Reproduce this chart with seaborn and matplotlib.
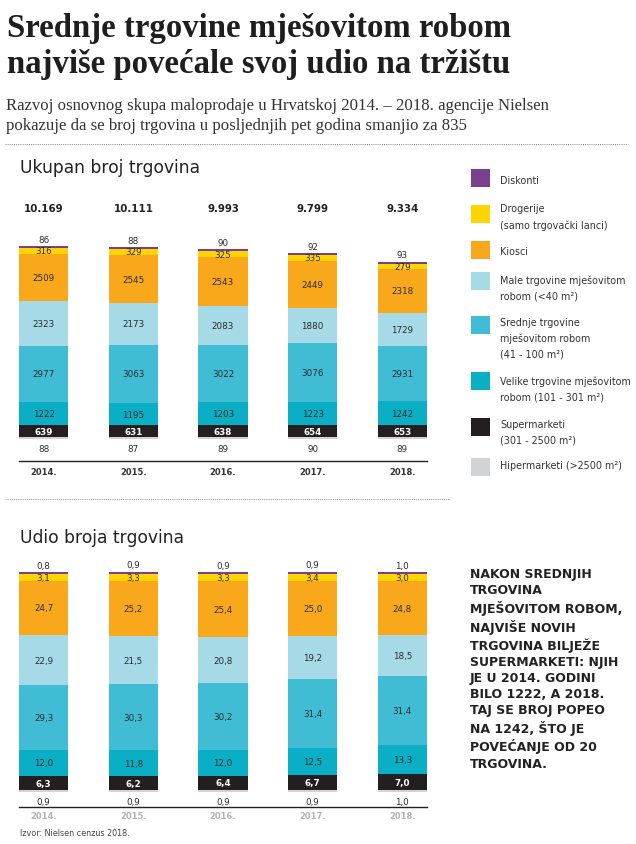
import matplotlib
matplotlib.use("Agg")
import matplotlib.pyplot as plt
from matplotlib.lines import Line2D
from matplotlib.patches import Rectangle
import matplotlib.transforms as mtransforms
import seaborn as sns
import pandas as pd

# --- data -------------------------------------------------------------
years = ['2014.', '2015.', '2016.', '2017.', '2018.']
totals = ['10.169', '10.111', '9.993', '9.799', '9.334']

# counts, from bottom of the stack to top
hiper = [88, 87, 89, 90, 89]
supermarketi = [639, 631, 638, 654, 653]
velike = [1222, 1195, 1203, 1223, 1242]
srednje = [2977, 3063, 3022, 3076, 2931]
male = [2323, 2173, 2083, 1880, 1729]
kiosci = [2509, 2545, 2543, 2449, 2318]
drogerije = [316, 329, 325, 335, 279]
diskonti = [86, 88, 90, 92, 93]

# shares in %
hiper_pct = [0.9, 0.9, 0.9, 0.9, 1.0]
supermarketi_pct = [6.3, 6.2, 6.4, 6.7, 7.0]
velike_pct = [12.0, 11.8, 12.0, 12.5, 13.3]
srednje_pct = [29.3, 30.3, 30.2, 31.4, 31.4]
male_pct = [22.9, 21.5, 20.8, 19.2, 18.5]
kiosci_pct = [24.7, 25.2, 25.4, 25.0, 24.8]
drogerije_pct = [3.1, 3.3, 3.3, 3.4, 3.0]
diskonti_pct = [0.8, 0.9, 0.9, 0.9, 1.0]

categories = ['Hipermarketi', 'Supermarketi', 'Velike', 'Srednje', 'Male',
              'Kiosci', 'Drogerije', 'Diskonti']
colors = ['#d1d3d4', '#231f20', '#0aafc6', '#40bdd4', '#a6dae7',
          '#f9a81c', '#ffd400', '#7a3f8f']

legend_labels = [
    ['Diskonti'],
    ['Drogerije', '(samo trgovački lanci)'],
    ['Kiosci'],
    ['Male trgovine mješovitom', 'robom (<40 m²)'],
    ['Srednje trgovine', 'mješovitom robom', '(41 - 100 m²)'],
    ['Velike trgovine mješovitom', 'robom (101 - 301 m²)'],
    ['Supermarketi', '(301 - 2500 m²)'],
    ['Hipermarketi (>2500 m²)'],
]

side_note = ("NAKON SREDNJIH\nTRGOVINA\nMJEŠOVITOM ROBOM,\nNAJVIŠE NOVIH\n"
             "TRGOVINA BILJEŽE\nSUPERMARKETI: NJIH\nJE U 2014. GODINI\n"
             "BILO 1222, A 2018.\nTAJ SE BROJ POPEO\nNA 1242, ŠTO JE\n"
             "POVEĆANJE OD 20\nTRGOVINA.")

sns.set_style("white")
plt.rcParams['font.family'] = ['DejaVu Sans']

W, H = 636, 845
fig = plt.figure(figsize=(W / 100, H / 100), dpi=100)
TXT = '#2b2b2b'


def px_rect(left, top, right, bottom):
    return [left / W, 1 - bottom / H, (right - left) / W, (bottom - top) / H]


def stacked(ax, series, fmt, white_idx):
    cum = pd.DataFrame(series, index=categories).T.cumsum(axis=1)
    cum['year'] = years
    # draw tallest cumulative first, smaller ones on top
    for k in range(len(categories) - 1, -1, -1):
        sns.barplot(data=cum, x='year', y=categories[k], color=colors[k],
                    saturation=1, width=0.55, linewidth=0, ax=ax)
    for i in range(len(years)):
        base = 0
        for k, cat in enumerate(categories):
            v = series[k][i]
            mid = base + v / 2
            base += v
            if k == 0:
                ax.annotate(fmt(v), (i, 0), xytext=(0, -10), textcoords='offset pixels',
                            ha='center', va='center', fontsize=6.3, color=TXT)
            elif k == len(categories) - 1:
                ax.annotate(fmt(v), (i, base), xytext=(0, 7), textcoords='offset pixels',
                            ha='center', va='center', fontsize=6.3, color=TXT)
            elif k == white_idx:
                ax.text(i, mid, fmt(v), ha='center', va='center', fontsize=6.3,
                        color='white', fontweight='bold')
            else:
                ax.text(i, mid, fmt(v), ha='center', va='center', fontsize=6.3,
                        color=TXT)
    ax.set_xlim(-0.275, len(years) - 0.725)
    ax.set_xlabel('')
    ax.set_ylabel('')
    ax.set_yticks([])
    for s in ['top', 'right', 'left']:
        ax.spines[s].set_visible(False)
    ax.spines['bottom'].set_color('#222222')
    ax.spines['bottom'].set_linewidth(1.0)
    ax.tick_params(axis='x', length=0)
    ax.patch.set_alpha(0)


count_series = [hiper, supermarketi, velike, srednje, male, kiosci, drogerije, diskonti]
pct_series = [hiper_pct, supermarketi_pct, velike_pct, srednje_pct, male_pct,
              kiosci_pct, drogerije_pct, diskonti_pct]

# --- top chart ----------------------------------------------------------
ax1 = fig.add_axes(px_rect(19, 200, 427, 440))
stacked(ax1, count_series, lambda v: f"{v}", 1)
ax1.set_ylim(0, 240 * 52.7)
ax1.spines['bottom'].set_position(('outward', 22 * 0.72))
ax1.set_xticks(range(len(years)))
ax1.set_xticklabels(years, fontsize=6, fontweight='bold', color='#333333')
ax1.tick_params(axis='x', pad=4)
tr1 = mtransforms.blended_transform_factory(ax1.transData, ax1.transAxes)
for i, t in enumerate(totals):
    ax1.text(i, (440 - 209) / 240, t, transform=tr1, ha='center', va='center',
             fontsize=7.4, fontweight='bold', color='#222222')

# --- bottom chart -------------------------------------------------------
ax2 = fig.add_axes(px_rect(19, 560, 427, 793))
stacked(ax2, pct_series, lambda v: f"{v:.1f}".replace('.', ','), 1)
ax2.set_ylim(0, 233 / 2.2)
ax2.spines['bottom'].set_position(('outward', 15 * 0.72))
ax2.set_xticks(range(len(years)))
ax2.set_xticklabels(years, fontsize=6, fontweight='bold', color='#b3b3b3')
ax2.tick_params(axis='x', pad=3)

# --- titles and texts ---------------------------------------------------
fig.text(7 / W, 1 - 29 / H, 'Srednje trgovine mješovitom robom', fontsize=23.6,
         fontweight='bold', family='Liberation Serif', color='#1e1e1e', va='center')
fig.text(7 / W, 1 - 64 / H, 'najviše povećale svoj udio na tržištu', fontsize=23.6,
         fontweight='bold', family='Liberation Serif', color='#1e1e1e', va='center')
fig.text(6 / W, 1 - 106 / H,
         'Razvoj osnovnog skupa maloprodaje u Hrvatskoj 2014. – 2018. agencije Nielsen',
         fontsize=12.1, family='Liberation Serif', color='#333333', va='center')
fig.text(6 / W, 1 - 126 / H,
         'pokazuje da se broj trgovina u posljednjih pet godina smanjio za 835',
         fontsize=12.1, family='Liberation Serif', color='#333333', va='center')

fig.text(20 / W, 1 - 168 / H, 'Ukupan broj trgovina', fontsize=12.3, color='#222222', va='center')
fig.text(20 / W, 1 - 538 / H, 'Udio broja trgovina', fontsize=12.3, color='#222222', va='center')
fig.text(20 / W, 1 - 834 / H, 'Izvor: Nielsen cenzus 2018.', fontsize=5.8, color='#444444', va='center')

fig.text(470 / W, 1 - 568 / H, side_note, fontsize=9, fontweight='bold', color='#222222',
         va='top', linespacing=1.31)

# dotted separators
for y, x0, x1 in [(145, 5, 628), (500, 5, 450)]:
    fig.add_artist(Line2D([x0 / W, x1 / W], [1 - y / H, 1 - y / H], transform=fig.transFigure,
                          color='#888888', lw=0.7, ls=(0, (1, 1.2))))

# --- legend -------------------------------------------------------------
leg_sq = [179, 215, 250.5, 282, 326, 382, 428, 468]
leg_txt = [181, 209.5, 252, 281, 323, 382, 425, 466]
leg_colors = colors[::-1]
for yc, yt, lines, c in zip(leg_sq, leg_txt, legend_labels, leg_colors):
    fig.add_artist(Rectangle((471 / W, 1 - (yc + 9) / H), 19 / W, 18 / H,
                             transform=fig.transFigure, color=c, lw=0))
    for j, line in enumerate(lines):
        fig.text(500 / W, 1 - (yt + j * 15.8) / H, line, fontsize=6.9, color='#333333',
                 va='center')

fig.savefig('out.png', dpi=100)
